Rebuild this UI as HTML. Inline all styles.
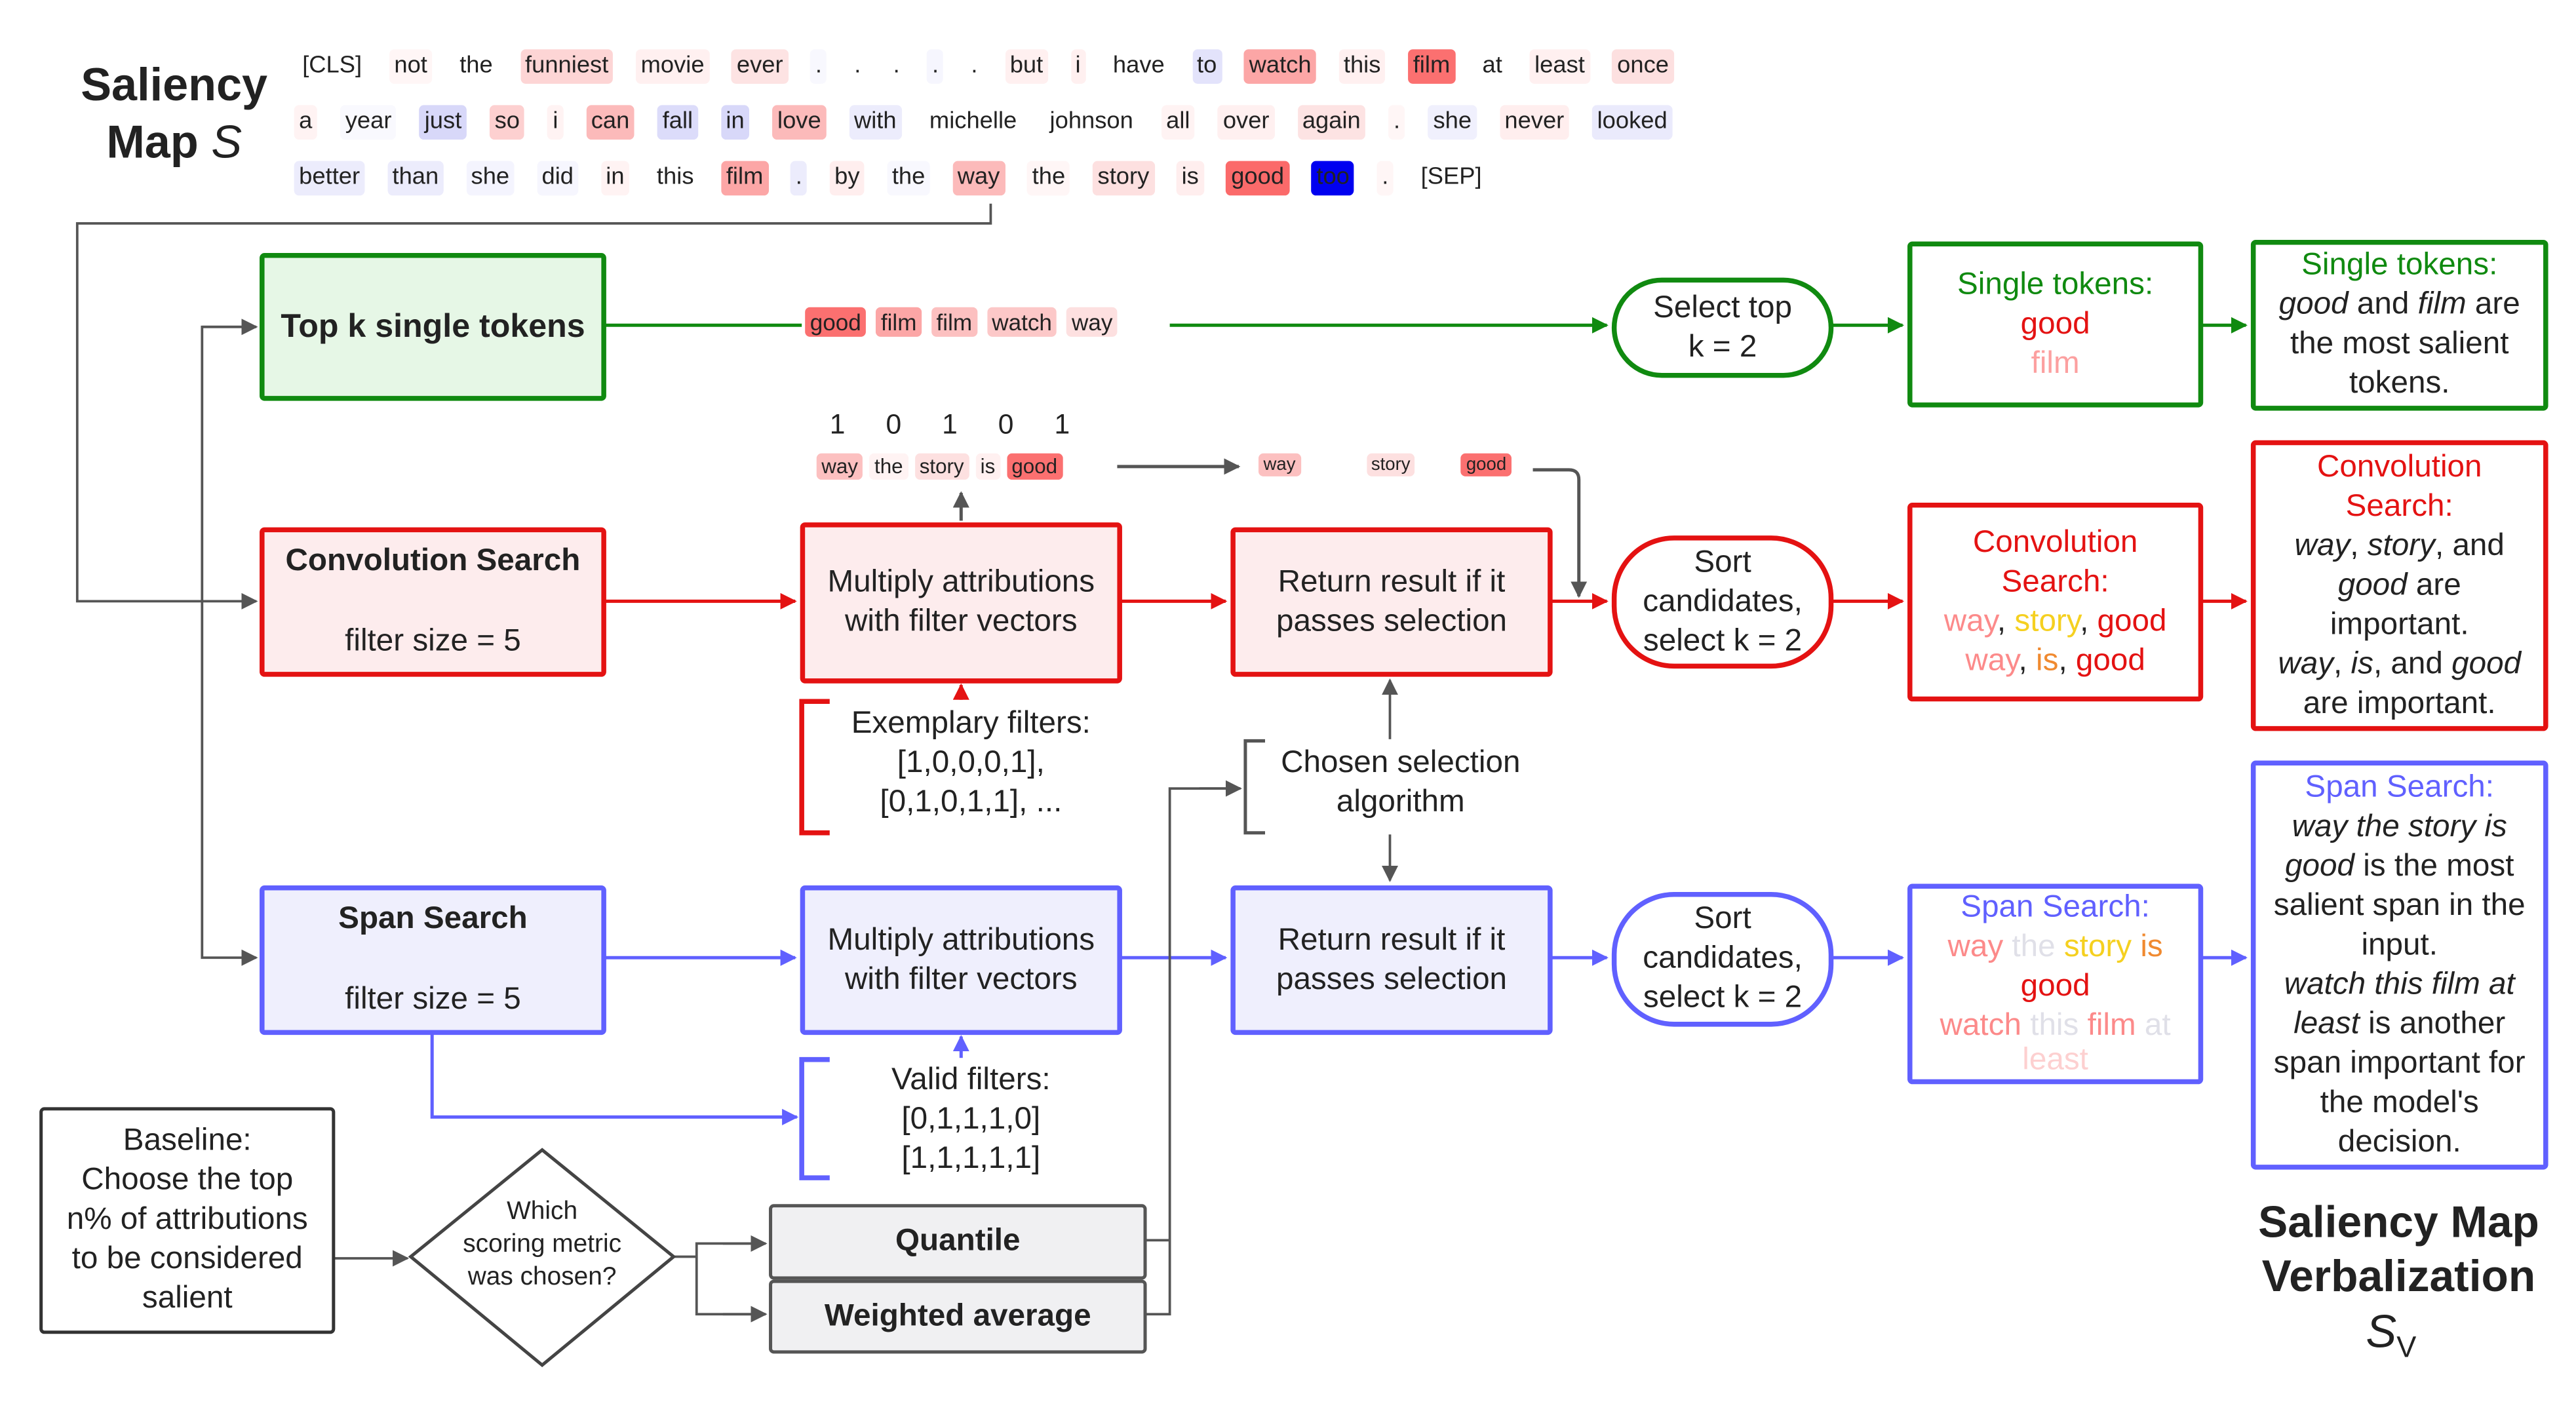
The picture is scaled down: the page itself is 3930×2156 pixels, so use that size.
<!DOCTYPE html>
<html><head><meta charset="utf-8"><style>
html,body{margin:0;padding:0;background:#fff;width:3930px;height:2151px;overflow:hidden}
#c{position:absolute;left:0;top:0;width:1570px;height:860px;transform:scale(2.5065);transform-origin:0 0;font-family:"Liberation Sans",sans-serif;color:#222}
.a{position:absolute}
.box{position:absolute;box-sizing:border-box;border:3px solid;border-radius:3px;display:flex;flex-direction:column;align-items:center;justify-content:center;text-align:center;font-size:19px;line-height:24px}
.g{border-color:#108a10}.r{border-color:#e41212}.b{border-color:#6060ff}
.row{position:absolute;display:flex;justify-content:space-between;font-size:14.5px;height:22px;align-items:center}
.row span{padding:1px 3px;border-radius:3px;line-height:19px}
.sm{display:flex;font-size:12px;position:absolute;align-items:center}
.sm span{padding:1px 3px;border-radius:3px;margin-right:4px}
i{font-style:italic}
</style></head><body><div id="c">
<div class="a" style="left:30px;top:34px;width:152px;text-align:center;font-size:28px;font-weight:bold;line-height:35px">Saliency<br>Map <span style="font-weight:normal;font-style:italic">S</span></div>

<div class="row" style="left:181px;top:29px;width:838px">
<span>[CLS]</span><span style="background:#fff6f6">not</span><span>the</span><span style="background:#fdd5d5">funniest</span><span style="background:#fff0f0">movie</span><span style="background:#fde3e3">ever</span><span style="background:#f8f8fe">.</span><span>.</span><span>.</span><span style="background:#f6f6fe">.</span><span>.</span><span style="background:#fff0f0">but</span><span style="background:#fff0f0">i</span><span>have</span><span style="background:#e3e3fb">to</span><span style="background:#fca6a6">watch</span><span style="background:#fff0f0">this</span><span style="background:#fb7070">film</span><span>at</span><span style="background:#fff0f0">least</span><span style="background:#fde0e0">once</span></div>
<div class="row" style="left:179px;top:63px;width:839px">
<span style="background:#fff3f3">a</span><span style="background:#f9f9fe">year</span><span style="background:#d8d8f9">just</span><span style="background:#fdd0d0">so</span><span style="background:#fff3f3">i</span><span style="background:#fcbaba">can</span><span style="background:#dcdcfa">fall</span><span style="background:#d8d8f9">in</span><span style="background:#fcbaba">love</span><span style="background:#ececfc">with</span><span>michelle</span><span>johnson</span><span style="background:#fff3f3">all</span><span style="background:#fff0f0">over</span><span style="background:#fde3e3">again</span><span style="background:#fff6f6">.</span><span style="background:#f0f0fd">she</span><span style="background:#ffeeee">never</span><span style="background:#eaeafc">looked</span></div>
<div class="row" style="left:179px;top:97px;width:726px">
<span style="background:#ececfc">better</span><span style="background:#ececfc">than</span><span style="background:#f4f4fe">she</span><span style="background:#f6f6fe">did</span><span style="background:#fff3f3">in</span><span>this</span><span style="background:#fca6a6">film</span><span style="background:#ececfc">.</span><span style="background:#ffeeee">by</span><span style="background:#f8f8fe">the</span><span style="background:#fcbaba">way</span><span style="background:#fff6f6">the</span><span style="background:#fde0e0">story</span><span style="background:#ffeeee">is</span><span style="background:#fb6a6a">good</span><span style="background:#0000f0">too</span><span style="background:#fff6f6">.</span><span>[SEP]</span></div>

<svg class="a" style="left:0;top:0" width="1570" height="860" viewBox="0 0 1570 860">
<defs>
<marker id="mg" markerWidth="10" markerHeight="10" refX="9" refY="5" orient="auto" markerUnits="userSpaceOnUse"><path d="M0,0L10,5L0,10z" fill="#108a10"/></marker>
<marker id="mr" markerWidth="10" markerHeight="10" refX="9" refY="5" orient="auto" markerUnits="userSpaceOnUse"><path d="M0,0L10,5L0,10z" fill="#e41212"/></marker>
<marker id="mb" markerWidth="10" markerHeight="10" refX="9" refY="5" orient="auto" markerUnits="userSpaceOnUse"><path d="M0,0L10,5L0,10z" fill="#6060ff"/></marker>
<marker id="mk" markerWidth="10" markerHeight="10" refX="9" refY="5" orient="auto" markerUnits="userSpaceOnUse"><path d="M0,0L10,5L0,10z" fill="#555"/></marker>
</defs>
<g fill="none" stroke-width="2">
<path d="M603,124V136H47V366H156" stroke="#555" stroke-width="1.5" marker-end="url(#mk)"/>
<path d="M156,199H123V583H156" stroke="#555" stroke-width="1.5" marker-end="url(#mk)"/>
<path d="M123,199H156" stroke="#555" stroke-width="1.5" marker-end="url(#mk)"/>
<path d="M368,198H488M712,198H978" stroke="#108a10" marker-end="url(#mg)"/>
<path d="M1115,198H1158" stroke="#108a10" marker-end="url(#mg)"/>
<path d="M1340,198H1367" stroke="#108a10" marker-end="url(#mg)"/>
<path d="M368,366H484" stroke="#e41212" marker-end="url(#mr)"/>
<path d="M682,366H746" stroke="#e41212" marker-end="url(#mr)"/>
<path d="M944,366H978" stroke="#e41212" marker-end="url(#mr)"/>
<path d="M1115,366H1158" stroke="#e41212" marker-end="url(#mr)"/>
<path d="M1340,366H1367" stroke="#e41212" marker-end="url(#mr)"/>
<path d="M585,426V417" stroke="#e41212" marker-end="url(#mr)"/>
<path d="M585,317V300" stroke="#555" marker-end="url(#mk)"/>
<path d="M680,284H754" stroke="#555" marker-end="url(#mk)"/>
<path d="M933,286H955Q961,286 961,292V363" stroke="#555" marker-end="url(#mk)"/>
<path d="M846,450V414" stroke="#555" stroke-width="1.5" marker-end="url(#mk)"/>
<path d="M846,508V536" stroke="#555" stroke-width="1.5" marker-end="url(#mk)"/>
<path d="M368,583H484" stroke="#6060ff" marker-end="url(#mb)"/>
<path d="M682,583H746" stroke="#6060ff" marker-end="url(#mb)"/>
<path d="M944,583H978" stroke="#6060ff" marker-end="url(#mb)"/>
<path d="M1115,583H1158" stroke="#6060ff" marker-end="url(#mb)"/>
<path d="M1340,583H1367" stroke="#6060ff" marker-end="url(#mb)"/>
<path d="M585,644V631" stroke="#6060ff" marker-end="url(#mb)"/>
<path d="M263,629V680H485" stroke="#6060ff" marker-end="url(#mb)"/>
<path d="M203,766H248" stroke="#555" stroke-width="1.5" marker-end="url(#mk)"/>
<path d="M410,765H424V757H466M424,765V800H466" stroke="#555" stroke-width="1.5"/>
<path d="M440,757H466" stroke="#555" stroke-width="1.5" marker-end="url(#mk)"/>
<path d="M440,800H466" stroke="#555" stroke-width="1.5" marker-end="url(#mk)"/>
<path d="M697,755H712V480H755M697,800H712V755" stroke="#555" stroke-width="1.5"/>
<path d="M730,480H755" stroke="#555" stroke-width="1.5" marker-end="url(#mk)"/>
<path d="M505,427H488V507H505" stroke="#e41212" stroke-width="3"/>
<path d="M505,645H488V717H505" stroke="#6060ff" stroke-width="3"/>
<path d="M770,451H758V507H770" stroke="#555" stroke-width="2"/>
<path d="M330,700L410,765L330,831L250,765z" stroke="#444" stroke-width="2" fill="#fff"/>
</g>
</svg>

<div class="sm" style="left:490px;top:187px;font-size:14px"><span style="background:#fb7070;margin-right:6px">good</span><span style="background:#fca6a6;margin-right:6px">film</span><span style="background:#fcc0c0;margin-right:6px">film</span><span style="background:#fcc8c8;margin-right:6px">watch</span><span style="background:#fde0e0">way</span></div>
<div class="a" style="left:505px;top:249px;font-size:17px;word-spacing:20px">1 0 1 0 1</div>
<div class="sm" style="left:497px;top:276px;font-size:12.5px"><span style="background:#fcc0c0">way</span><span style="background:#fff3f3">the</span><span style="background:#fde0e0">story</span><span style="background:#fff0f0">is</span><span style="background:#fb7070">good</span></div>
<div class="sm" style="left:766px;top:276px;font-size:11px"><span style="background:#fcc0c0;margin-right:40px">way</span><span style="background:#fde0e0;margin-right:28px">story</span><span style="background:#fb7070">good</span></div>

<div class="box g" style="left:158px;top:154px;width:211px;height:90px;background:#e6f7e6;font-weight:bold;font-size:20px">Top k single tokens</div>
<div class="box g" style="left:981px;top:169px;width:135px;height:61px;border-radius:32px">Select top<br>k = 2</div>
<div class="box g" style="left:1161px;top:147px;width:180px;height:101px"><span style="color:#108a10">Single tokens:</span><span style="color:#e41212">good</span><span style="color:#fca0a0">film</span></div>
<div class="box g" style="left:1370px;top:146px;width:181px;height:104px"><span style="color:#108a10">Single tokens:</span><span><i>good</i> and <i>film</i> are</span><span>the most salient</span><span>tokens.</span></div>

<div class="box r" style="left:158px;top:321px;width:211px;height:91px;background:#fdeced;justify-content:space-between;padding:6px 0"><b>Convolution Search</b><span>filter size = 5</span></div>
<div class="box r" style="left:487px;top:318px;width:196px;height:98px;background:#fdeced">Multiply attributions<br>with filter vectors</div>
<div class="box r" style="left:749px;top:321px;width:196px;height:91px;background:#fdeced">Return result if it<br>passes selection</div>
<div class="box r" style="left:981px;top:326px;width:135px;height:81px;border-radius:38px">Sort<br>candidates,<br>select k = 2</div>
<div class="box r" style="left:1161px;top:306px;width:180px;height:121px"><span style="color:#e41212">Convolution</span><span style="color:#e41212">Search:</span><span><span style="color:#fc8a8a">way</span>, <span style="color:#f5d020">story</span>, <span style="color:#e41212">good</span></span><span><span style="color:#fc8a8a">way</span>, <span style="color:#f08a30">is</span>, <span style="color:#e41212">good</span></span></div>
<div class="box r" style="left:1370px;top:268px;width:181px;height:177px"><span style="color:#e41212">Convolution</span><span style="color:#e41212">Search:</span><span><i>way</i>, <i>story</i>, and</span><span><i>good</i> are</span><span>important.</span><span><i>way</i>, <i>is</i>, and <i>good</i></span><span>are important.</span></div>

<div class="a" style="left:505px;top:429px;width:172px;text-align:center;font-size:19px;line-height:24px">Exemplary filters:<br>[1,0,0,0,1],<br>[0,1,0,1,1], ...</div>
<div class="a" style="left:770px;top:453px;width:165px;text-align:center;font-size:19px;line-height:24px">Chosen selection<br>algorithm</div>

<div class="box b" style="left:158px;top:539px;width:211px;height:91px;background:#efeffd;justify-content:space-between;padding:6px 0"><b>Span Search</b><span>filter size = 5</span></div>
<div class="box b" style="left:487px;top:539px;width:196px;height:91px;background:#efeffd">Multiply attributions<br>with filter vectors</div>
<div class="box b" style="left:749px;top:539px;width:196px;height:91px;background:#efeffd">Return result if it<br>passes selection</div>
<div class="box b" style="left:981px;top:543px;width:135px;height:82px;border-radius:38px">Sort<br>candidates,<br>select k = 2</div>
<div class="box b" style="left:1161px;top:538px;width:180px;height:122px;justify-content:flex-start;padding-top:0"><span style="color:#6060ff">Span Search:</span><span><span style="color:#fc8a8a">way</span> <span style="color:#e0e0e8">the</span> <span style="color:#f5d020">story</span> <span style="color:#f08a30">is</span></span><span style="color:#e41212">good</span><span><span style="color:#fc8a8a">watch</span> <span style="color:#e0e0e8">this</span> <span style="color:#fc8a8a">film</span> <span style="color:#e0e0e8">at</span></span><span style="color:#fdd0d0;line-height:18px">least</span></div>
<div class="box b" style="left:1370px;top:463px;width:181px;height:249px"><span style="color:#6060ff">Span Search:</span><span><i>way the story is</i></span><span><i>good</i> is the most</span><span>salient span in the</span><span>input.</span><span><i>watch this film at</i></span><span><i>least</i> is another</span><span>span important for</span><span>the model's</span><span>decision.</span></div>

<div class="a" style="left:505px;top:646px;width:172px;text-align:center;font-size:19px;line-height:24px">Valid filters:<br>[0,1,1,1,0]<br>[1,1,1,1,1]</div>

<div class="box" style="left:24px;top:674px;width:180px;height:138px;border:2px solid #333">Baseline:<br>Choose the top<br>n% of attributions<br>to be considered<br>salient</div>
<div class="a" style="left:265px;top:728px;width:130px;text-align:center;font-size:15.5px;line-height:20px">Which<br>scoring metric<br>was chosen?</div>
<div class="box" style="left:468px;top:733px;width:230px;height:46px;border:2px solid #555;background:#f0f0f2;font-weight:bold">Quantile</div>
<div class="box" style="left:468px;top:779px;width:230px;height:45px;border:2px solid #555;background:#f0f0f2;font-weight:bold">Weighted average</div>

<div class="a" style="left:1350px;top:728px;width:220px;text-align:center;font-size:27px;font-weight:bold;line-height:33px">Saliency Map<br>Verbalization</div>
<div class="a" style="left:1440px;top:795px;font-size:28px;font-style:italic">S<span style="font-size:18px;font-style:normal;vertical-align:-6px">V</span></div>
</div></body></html>
